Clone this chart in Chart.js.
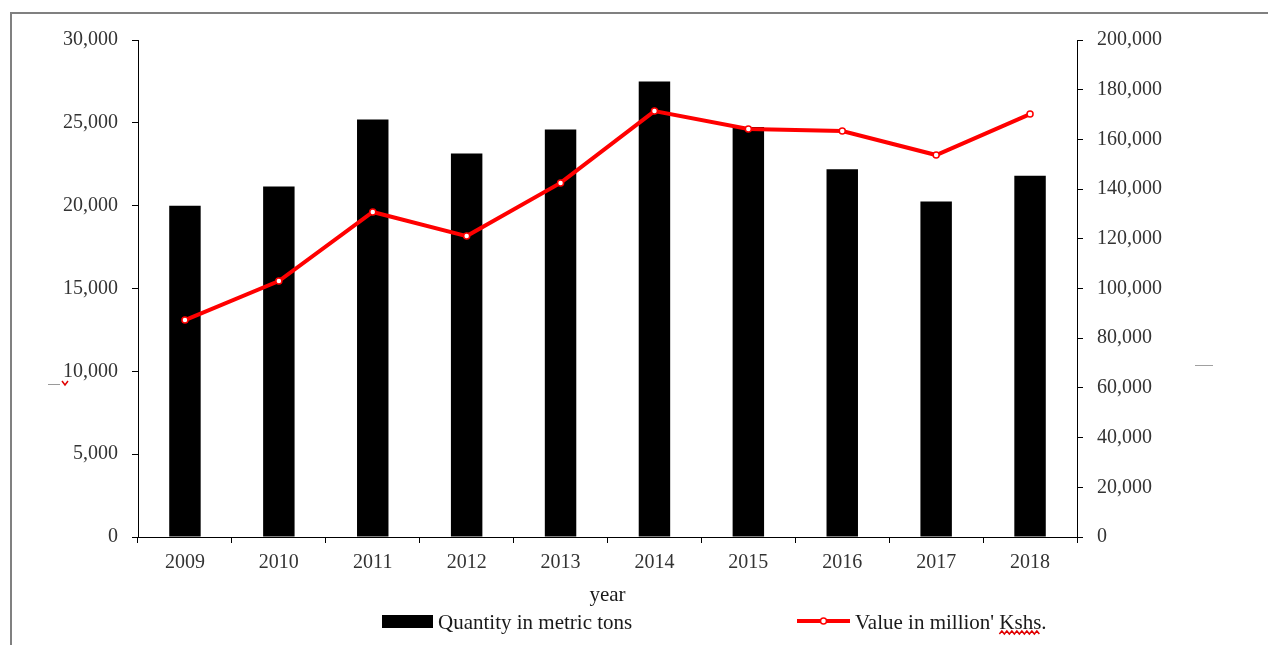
<!DOCTYPE html>
<html><head><meta charset="utf-8">
<script src="https://cdn.jsdelivr.net/npm/chart.js@4.4.1/dist/chart.umd.min.js"></script>
<style>
html,body{margin:0;padding:0;background:#fff;overflow:hidden;}
canvas{display:block;}
</style>
</head><body>
<canvas id="c" width="1268" height="645"></canvas>
<script>
const years = ['2009','2010','2011','2012','2013','2014','2015','2016','2017','2018'];
const quantityTons = [20000, 21150, 25200, 23150, 24600, 27500, 24750, 22200, 20250, 21800];
const valueMillionKshs = [87300, 103000, 130800, 121100, 142500, 171400, 164200, 163400, 153700, 170200];
const quantityAxis = {min: 0, max: 30000, step: 5000};
const valueAxis = {min: 0, max: 200000, step: 20000};
const xTitle = 'year';
const legendQuantity = 'Quantity in metric tons';
const legendValueMain = "Value in million' ";
const legendValueWord = 'Kshs';
const legendValueEnd = '.';

const serif = '"Liberation Serif", "Times New Roman", serif';
const tickFont = {family: serif, size: 20};
const tickColor = '#333333';
const fmt = v => Number(v).toLocaleString('en-US');

const decor = {
  id: 'decor',
  afterDraw(chart) {
    const ctx = chart.ctx;
    ctx.save();
    // page frame
    ctx.strokeStyle = '#808080';
    ctx.lineWidth = 2;
    ctx.beginPath();
    ctx.moveTo(11, 645); ctx.lineTo(11, 13); ctx.lineTo(1268, 13);
    ctx.stroke();
    // small stray marks
    ctx.lineWidth = 1;
    ctx.strokeStyle = '#9a9a9a';
    ctx.beginPath(); ctx.moveTo(48, 384.5); ctx.lineTo(60, 384.5); ctx.stroke();
    ctx.strokeStyle = '#e00000';
    ctx.lineWidth = 1.5;
    ctx.beginPath(); ctx.moveTo(62, 381); ctx.lineTo(65, 385); ctx.lineTo(68, 381); ctx.stroke();
    ctx.strokeStyle = '#a0a0a0';
    ctx.lineWidth = 1;
    ctx.beginPath(); ctx.moveTo(1195, 365.5); ctx.lineTo(1213, 365.5); ctx.stroke();

    // legend
    const ly = 621;
    ctx.fillStyle = '#000';
    ctx.fillRect(382, 615, 51, 13);
    ctx.font = '21px ' + serif;
    ctx.textBaseline = 'alphabetic';
    ctx.textAlign = 'left';
    ctx.fillStyle = '#1a1a1a';
    ctx.fillText(legendQuantity, 438, 629);

    ctx.strokeStyle = '#ff0000';
    ctx.lineWidth = 4;
    ctx.beginPath(); ctx.moveTo(797, ly); ctx.lineTo(850, ly); ctx.stroke();
    ctx.fillStyle = '#fff';
    ctx.lineWidth = 1.5;
    ctx.beginPath(); ctx.arc(823.5, ly, 3, 0, Math.PI * 2); ctx.fill(); ctx.stroke();

    ctx.fillStyle = '#1a1a1a';
    const tx = 855;
    ctx.fillText(legendValueMain, tx, 629);
    const w1 = ctx.measureText(legendValueMain).width;
    ctx.fillText(legendValueWord, tx + w1, 629);
    const w2 = ctx.measureText(legendValueWord).width;
    ctx.fillText(legendValueEnd, tx + w1 + w2, 629);
    // spelling squiggle
    ctx.strokeStyle = '#e00000';
    ctx.lineWidth = 1.5;
    ctx.beginPath();
    let sx = tx + w1, ex = tx + w1 + w2, up = true;
    ctx.moveTo(sx, 634);
    for (let x = sx + 2.5; x <= ex + 0.1; x += 2.5) { ctx.lineTo(x, up ? 631 : 634); up = !up; }
    ctx.stroke();
    ctx.restore();
  }
};

new Chart(document.getElementById('c'), {
  data: {
    labels: years,
    datasets: [
      {
        type: 'line',
        label: "Value in million' Kshs.",
        data: valueMillionKshs,
        yAxisID: 'y1',
        borderColor: '#ff0000',
        borderWidth: 4,
        pointRadius: 3,
        pointBackgroundColor: '#ffffff',
        pointBorderColor: '#ff0000',
        pointBorderWidth: 1.5,
        tension: 0,
        order: 0
      },
      {
        type: 'bar',
        label: 'Quantity in metric tons',
        data: quantityTons,
        yAxisID: 'y',
        backgroundColor: '#000000',
        categoryPercentage: 1,
        barPercentage: 0.335,
        order: 1
      }
    ]
  },
  options: {
    responsive: false,
    animation: false,
    devicePixelRatio: 1,
    layout: {padding: {top: 40, bottom: 37, left: 0, right: 0}},
    plugins: {legend: {display: false}, tooltip: {enabled: false}},
    scales: {
      x: {
        offset: true,
        grid: {display: true, offset: true, drawOnChartArea: false, drawTicks: true, tickLength: 6, color: '#000'},
        border: {display: true, color: '#000', width: 1},
        ticks: {font: tickFont, color: tickColor, padding: 8, maxRotation: 0},
        title: {display: true, text: xTitle, font: {family: serif, size: 21}, color: '#1a1a1a', padding: 0},
        afterFit(s) { s.height = 71; }
      },
      y: {
        position: 'left',
        min: quantityAxis.min, max: quantityAxis.max,
        grid: {display: true, drawOnChartArea: false, drawTicks: true, tickLength: 6, color: '#000'},
        border: {display: true, color: '#000', width: 1},
        ticks: {stepSize: quantityAxis.step, font: tickFont, color: tickColor, padding: 14, callback: fmt},
        afterFit(s) { s.width = 138; }
      },
      y1: {
        position: 'right',
        min: valueAxis.min, max: valueAxis.max,
        grid: {display: true, drawOnChartArea: false, drawTicks: true, tickLength: 6, color: '#000'},
        border: {display: true, color: '#000', width: 1},
        ticks: {stepSize: valueAxis.step, font: tickFont, color: tickColor, padding: 14, callback: fmt},
        afterFit(s) { s.width = 191; }
      }
    }
  },
  plugins: [decor]
});
</script>
</body></html>
